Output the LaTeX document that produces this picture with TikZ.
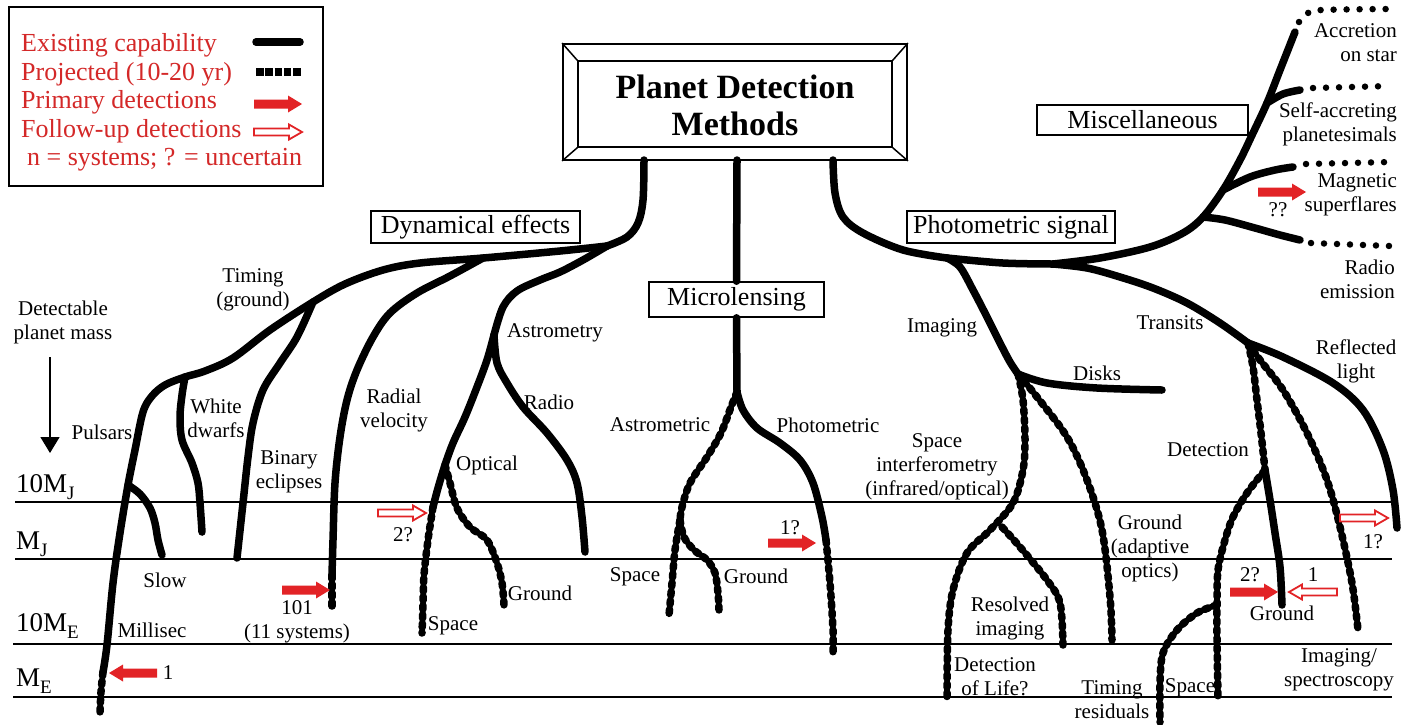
\documentclass[tikz,border=0pt]{standalone}
\usepackage{fontspec}
\setmainfont{Liberation Serif}
\usetikzlibrary{arrows.meta}
\definecolor{legred}{RGB}{212,40,40}
\definecolor{arrred}{RGB}{226,35,38}
\newcommand\trbranch[2]{\draw[#1] plot[smooth, tension=0.55] coordinates {#2};}
\tikzset{
  exist/.style={line width=7.5pt, line cap=round, line join=round},
  proj/.style={line width=7.5pt, line cap=round, line join=round, dash pattern=on 4pt off 5pt},
  dotline/.style={line width=6.5pt, line cap=round, dash pattern=on 0pt off 13pt},
  lvl/.style={line width=1.5pt},
  lbl/.style={font=\fontsize{21}{24}\selectfont, align=center, inner sep=0pt},
  catbox/.style={draw, line width=1.6pt, font=\fontsize{26}{30}\selectfont, inner sep=0pt},
  lvllbl/.style={font=\fontsize{27}{30}\selectfont, inner sep=0pt, anchor=base west},
  legtxt/.style={text=legred, font=\fontsize{26}{28}\selectfont, inner sep=0pt, anchor=base west},
  filledarrow/.pic={\fill[arrred] (0,-4.5) -- (34,-4.5) -- (34,-8.5) -- (48,0) -- (34,8.5) -- (34,4.5) -- (0,4.5) -- cycle;},
  hollowarrow/.pic={\draw[arrred, line width=1.8pt, fill=white] (0,-3.5) -- (35,-3.5) -- (35,-7.5) -- (48,0) -- (35,7.5) -- (35,3.5) -- (0,3.5) -- cycle;}
}
\begin{document}
\begin{tikzpicture}[x=1pt, y=-1pt]
\fill[white] (0,0) rectangle (1404,724);
\useasboundingbox (0,0) rectangle (1404,724);

% ---------------- legend ----------------
\node[draw, line width=1.6pt, minimum width=314pt, minimum height=179pt, inner sep=0pt] (legend) at (166,96.5) {};
\node[legtxt] (lg1) at (21,51) {Existing capability};
\node[legtxt] (lg2) at (21,80) {Projected (10-20 yr)};
\node[legtxt] (lg3) at (21,108) {Primary detections};
\node[legtxt] (lg4) at (21,137) {Follow-up detections};
\node[legtxt] (lg5) at (27,165) {n = systems; ? = uncertain};
\coordinate (lgs1) at (256,42); \coordinate (lgs2) at (300,42);
\coordinate (lgd1) at (256,72); \coordinate (lgd2) at (302,72);
\draw[exist] (lgs1) -- (lgs2);
\draw[line width=7.5pt, dash pattern=on 7.5pt off 1.8pt] (lgd1) -- (lgd2);
\pic at (254,104) {filledarrow};
\pic at (254,132) {hollowarrow};

% ---------------- title ----------------
\node[draw, line width=1.8pt, minimum width=344pt, minimum height=116pt, inner sep=0pt] (title) at (735,102) {};
\node[draw, line width=1.5pt, minimum width=314pt, minimum height=86pt, inner sep=0pt] (titlein) at (735,104) {};
\draw[line width=1.5pt] (title.north west) -- (titlein.north west) (title.north east) -- (titlein.north east)
  (title.south west) -- (titlein.south west) (title.south east) -- (titlein.south east);
\node[font=\fontsize{34}{38}\selectfont\bfseries, anchor=base, inner sep=0pt] (tt1) at (735,98) {Planet Detection};
\node[font=\fontsize{34}{38}\selectfont\bfseries, anchor=base, inner sep=0pt] (tt2) at (735,135) {Methods};

% ---------------- category boxes ----------------
\node[catbox, minimum width=209pt, minimum height=32pt] (dyn) at (475.5,227) {Dynamical effects};
\node[catbox, minimum width=175pt, minimum height=35pt] (micro) at (736.5,299.5) {Microlensing};
\node[catbox, minimum width=208pt, minimum height=32pt] (phot) at (1011,227) {Photometric signal};
\node[catbox, minimum width=211pt, minimum height=30pt] (misc) at (1142.5,120) {Miscellaneous};

% ---------------- mass levels ----------------
\coordinate (h1a) at (15,502); \coordinate (h1b) at (1392,502);
\coordinate (h2a) at (15,559); \coordinate (h2b) at (1392,559);
\coordinate (h3a) at (13,644); \coordinate (h3b) at (1392,644);
\coordinate (h4a) at (13,697); \coordinate (h4b) at (1392,697);
\draw[lvl] (h1a) -- (h1b) (h2a) -- (h2b) (h3a) -- (h3b) (h4a) -- (h4b);
\node[lvllbl] (m1) at (16,492) {10M\raisebox{-7pt}{\fontsize{19}{19}\selectfont J}};
\node[lvllbl] (m2) at (16,549) {M\raisebox{-7pt}{\fontsize{19}{19}\selectfont J}};
\node[lvllbl] (m3) at (16,631) {10M\raisebox{-7pt}{\fontsize{19}{19}\selectfont E}};
\node[lvllbl] (m4) at (16,686) {M\raisebox{-7pt}{\fontsize{19}{19}\selectfont E}};

\node[lbl] (lDet) at (63,322) {Detectable\\planet mass};
\coordinate (ma1) at (50,357); \coordinate (ma2) at (50,453);
\draw[line width=1.5pt, -{Triangle[length=16pt,width=19pt]}] (ma1) -- (ma2);

% ---------------- key coordinates ----------------
\coordinate (ts1) at (644,160);
\coordinate (ts2) at (737,160);
\coordinate (ts3) at (833,160);
\coordinate (D0) at (607,246);
\coordinate (R0) at (483,258);
\coordinate (T) at (313,302);
\coordinate (W) at (185,377);
\coordinate (S) at (128,485);
\coordinate (pm) at (103,672);
\coordinate (rv1) at (332,575);
\coordinate (A) at (494,335);
\coordinate (O) at (445,465);
\coordinate (os1) at (433,507);
\coordinate (M) at (737,392);
\coordinate (M2) at (680,520);
\coordinate (ph1) at (826,540);
\coordinate (I0) at (947,258);
\coordinate (P1) at (1053,264);
\coordinate (I1) at (1018,374);
\coordinate (RE) at (1203,217);
\coordinate (MG) at (1223,190);
\coordinate (SA) at (1267,103);
\coordinate (AC) at (1295,32);
\coordinate (T2) at (1248,343);
\coordinate (DS) at (1265,470);
\coordinate (TR) at (1217,605);

% ---------------- Dynamical effects ----------------
\trbranch{exist}{(ts1) (643,200) (638,223) (627,237) (D0)}
\trbranch{exist}{(D0) (560,251) (R0) (420,263) (383,270) (345,284) (T) (270,330) (233,358) (205,371) (W) (165,385) (152,396) (143,412) (135,450) (S) (120,533) (113,583) (107,645) (pm)}
\trbranch{proj}{(pm) (101,692) (100,712)}
\trbranch{exist}{(S) (140,494) (150,508) (155,523) (158,540) (162,555)}
\trbranch{exist}{(W) (182,395) (180,417) (182,440) (192,463) (198,483) (200,503) (202,532)}
\trbranch{exist}{(T) (297,337) (280,363) (263,390) (253,423) (248,457) (243,503) (237,558)}
\trbranch{exist}{(R0) (450,276) (417,293) (390,313) (373,337) (357,370) (347,400) (340,437) (335,483) (333,540) (rv1)}
\trbranch{proj}{(rv1) (332,590) (332,607)}
\trbranch{exist}{(D0) (583,260) (560,272) (540,280) (517,291) (503,307) (A)}
\trbranch{exist}{(A) (487,360) (477,387) (465,417) (453,443) (O) (438,488) (os1)}
\trbranch{proj}{(os1) (428,540) (424,575) (423,605) (422,633)}
\trbranch{proj}{(O) (450,483) (457,508) (470,527) (487,540) (497,563) (502,583) (504,605)}
\trbranch{exist}{(A) (497,363) (507,383) (523,407) (547,433) (567,460) (577,483) (582,517) (585,552)}

% ---------------- Microlensing ----------------
\draw[exist] (ts2) -- (micro.north);
\draw[exist] (micro.south) -- (M);
\trbranch{proj}{(M) (731,407) (721,433) (707,457) (690,483) (682,507) (M2)}
\trbranch{proj}{(M2) (675,550) (672,583) (669,615)}
\trbranch{proj}{(M2) (684,537) (694,550) (707,560) (715,573) (718,593) (719,610)}
\trbranch{exist}{(M) (743,410) (757,428) (780,443) (800,460) (813,483) (822,517) (ph1)}
\trbranch{proj}{(ph1) (830,583) (833,630) (833,652)}

% ---------------- Photometric signal ----------------
\trbranch{exist}{(ts3) (835,193) (843,217) (863,233) (903,250) (I0)}
\trbranch{exist}{(I0) (1003,263) (P1)}
\trbranch{exist}{(P1) (1100,258) (1150,247) (1183,233) (RE) (MG) (1240,160) (1253,133) (SA) (1280,70) (AC)}
\trbranch{exist}{(SA) (1283,94) (1300,90)}
\trbranch{exist}{(MG) (1250,177) (1275,170) (1293,167)}
\trbranch{exist}{(RE) (1225,220) (1255,228) (1280,235) (1300,240)}
\draw[dotline] plot[smooth, tension=0.6] coordinates {(1299,22) (1308,13) (1322,10) (1390,9)};
\coordinate (sa1) at (1313,88); \coordinate (sa2) at (1390,86);
\coordinate (mg1) at (1306,164); \coordinate (mg2) at (1390,162);
\coordinate (re1) at (1311,243); \coordinate (re2) at (1390,246);
\draw[dotline] (sa1) -- (sa2);
\draw[dotline] (mg1) -- (mg2);
\draw[dotline] (re1) -- (re2);

\trbranch{exist}{(P1) (1087,268) (1120,277) (1153,288) (1187,303) (1220,323) (T2)}
\trbranch{exist}{(T2) (1283,357) (1333,383) (1363,410) (1383,450) (1393,490) (1397,528)}
\trbranch{proj}{(T2) (1253,367) (1257,400) (1261,433) (DS)}
\trbranch{exist}{(DS) (1270,500) (1275,533) (1280,567) (1282,605)}
\trbranch{proj}{(T2) (1260,360) (1283,390) (1307,433) (1327,480) (1340,527) (1352,583) (1358,630)}
\trbranch{proj}{(DS) (1247,493) (1233,517) (1225,540) (1218,570) (TR) (1217,640) (1218,698)}
\trbranch{proj}{(TR) (1197,613) (1177,630) (1163,653) (1160,683) (1160,722)}

\trbranch{exist}{(I0) (960,267) (973,290) (987,317) (1000,343) (1010,362) (I1)}
\trbranch{exist}{(I1) (1047,383) (1097,388) (1162,390)}
\trbranch{proj}{(I1) (1023,400) (1025,440) (1023,470) (1013,503) (990,530) (967,553) (953,590) (948,630) (947,697)}
\trbranch{proj}{(1002,527) (1020,547) (1047,580) (1060,603) (1063,645)}
\trbranch{proj}{(I1) (1037,397) (1067,437) (1087,480) (1102,530) (1110,597) (1112,640)}

% ---------------- detection arrows ----------------
\pic[rotate=180] at (157,673) {filledarrow};
\pic at (282,590) {filledarrow};
\pic at (378,513) {hollowarrow};
\pic at (768,543) {filledarrow};
\pic at (1258,192) {filledarrow};
\pic at (1340,518) {hollowarrow};
\pic at (1230,592) {filledarrow};
\pic[rotate=180] at (1337,592) {hollowarrow};

% ---------------- labels ----------------
\node[lbl] (lTiming) at (253,290) {Timing\\(ground)};
\node[lbl] (lPulsars) at (102,432) {Pulsars};
\node[lbl] (lWhite) at (216,418) {White\\dwarfs};
\node[lbl] (lBinary) at (289,472) {Binary\\eclipses};
\node[lbl] (lRadial) at (394,410) {Radial\\velocity};
\node[lbl] (lSlow) at (165,580) {Slow};
\node[lbl] (lMilli) at (152,630) {Millisec};
\node[lbl] (l101) at (297,622) {101\\(11 systems)};
\node[lbl] (l2q) at (403,535) {2?};
\node[lbl] (l1a) at (168,673) {1};
\node[lbl] (lAstrom) at (555,333) {Astrometry};
\node[lbl] (lRadio) at (549,402) {Radio};
\node[lbl] (lOptical) at (487,465) {Optical};
\node[lbl] (lGroundO) at (540,593) {Ground};
\node[lbl] (lSpaceO) at (453,626) {Space};
\node[lbl] (lAstric) at (660,425) {Astrometric};
\node[lbl] (lPhotric) at (828,425) {Photometric};
\node[lbl] (lSpaceM) at (635,577) {Space};
\node[lbl] (lGroundM) at (756,576) {Ground};
\node[lbl] (l1q) at (790,528) {1?};
\node[lbl] (lImaging) at (942,328) {Imaging};
\node[lbl] (lDisks) at (1097,373) {Disks};
\node[lbl] (lSI) at (937,467) {Space\\interferometry\\(infrared/optical)};
\node[lbl] (lGAO) at (1150,548) {Ground\\(adaptive\\optics)};
\node[lbl] (lRes) at (1010,618) {Resolved\\imaging};
\node[lbl] (lLife) at (995,677) {Detection\\of Life?};
\node[lbl] (lTR) at (1112,700) {Timing\\residuals};
\node[lbl] (lSpaceT) at (1190,688) {Space};
\node[lbl] (lTransits) at (1170,323) {Transits};
\node[lbl] (lRefl) at (1356,361) {Reflected\\light};
\node[lbl] (lDetect) at (1208,450) {Detection};
\node[lbl] (l2qT) at (1250,575) {2?};
\node[lbl] (l1T) at (1313,575) {1};
\node[lbl] (l1qR) at (1373,542) {1?};
\node[lbl] (lGroundT) at (1282,613) {Ground};
\node[lbl] (lImSp) at (1339,670) {Imaging/\\spectroscopy};
\node[lbl, align=right, anchor=east] (lAcc) at (1397,43) {Accretion\\on star};
\node[lbl, align=right, anchor=east] (lSelf) at (1397,124) {Self-accreting\\planetesimals};
\node[lbl, align=right, anchor=east] (lMag) at (1397,195) {Magnetic\\superflares};
\node[lbl, align=right, anchor=east] (lRadE) at (1395,279) {Radio\\emission};
\node[lbl] (lqq) at (1278,210) {??};
\end{tikzpicture}
\end{document}
